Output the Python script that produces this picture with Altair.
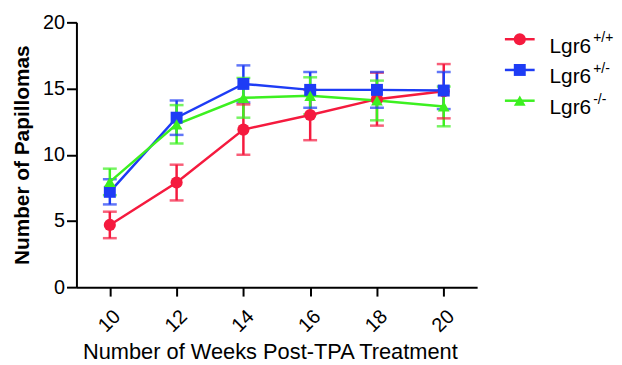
import altair as alt
import pandas as pd

weeks = [10, 12, 14, 16, 18, 20]
series = ["Lgr6+/+", "Lgr6+/-", "Lgr6-/-"]
sup_labels = ["+/+", "+/-", "-/-"]
colors = ["#F51A3E", "#1E3CF5", "#3CF020"]
shapes = ["circle", "square", "triangle-up"]
sizes = [150, 140, 190]

wt_mean = [4.7, 7.9, 11.9, 13.0, 14.2, 14.8]
wt_err = [1.0, 1.35, 1.9, 1.9, 2.0, 2.05]
het_mean = [7.2, 12.8, 15.35, 14.9, 14.9, 14.85]
het_err = [0.95, 1.3, 1.4, 1.35, 1.35, 1.4]
ko_mean = [7.95, 12.3, 14.3, 14.45, 14.1, 13.65]
ko_err = [1.0, 1.45, 1.5, 1.4, 1.5, 1.5]

means = [wt_mean, het_mean, ko_mean]
errs = [wt_err, het_err, ko_err]

rows = []
for s, m, e in zip(series, means, errs):
    for w, mv, ev in zip(weeks, m, e):
        rows.append({"week": w, "series": s, "mean": mv, "lo": mv - ev, "hi": mv + ev})
df = pd.DataFrame(rows)

leg = pd.DataFrame({"series": series, "sup": sup_labels, "base": ["Lgr6"] * 3})

FONT = "Liberation Sans"

color = alt.Color("series:N", scale=alt.Scale(domain=series, range=colors), legend=None)
shape = alt.Shape("series:N", scale=alt.Scale(domain=series, range=shapes), legend=None)
size = alt.Size("series:N", scale=alt.Scale(domain=series, range=sizes), legend=None)

xenc = alt.X(
    "week:Q",
    scale=alt.Scale(domain=[9, 21], nice=False, zero=False),
    axis=alt.Axis(
        values=weeks, labelAngle=-45, labelFontSize=20, labelPadding=10,
        title="Number of Weeks Post-TPA Treatment", titleFontSize=22,
        titleFontWeight="normal", titlePadding=6, titleX=195, grid=False,
    ),
)
yscale = alt.Scale(domain=[0, 20], nice=False)
yenc = alt.Y(
    "mean:Q", scale=yscale,
    axis=alt.Axis(
        values=[0, 5, 10, 15, 20], labelFontSize=20, labelPadding=2, tickSize=10,
        title="Number of Papillomas", titleFontSize=21, titleFontWeight="bold",
        titlePadding=10, grid=False,
    ),
)

base = alt.Chart(df)
rule = base.mark_rule(strokeWidth=2.5).encode(x=xenc, y=alt.Y("lo:Q", scale=yscale), y2="hi:Q", color=color)
cap_lo = base.mark_tick(orient="horizontal", size=14, thickness=2.5).encode(x=xenc, y=alt.Y("lo:Q", scale=yscale), color=color)
cap_hi = base.mark_tick(orient="horizontal", size=14, thickness=2.5).encode(x=xenc, y=alt.Y("hi:Q", scale=yscale), color=color)
line = base.mark_line(strokeWidth=2.5).encode(x=xenc, y=yenc, color=color, detail="series:N")
pts = base.mark_point(filled=True, opacity=1).encode(x=xenc, y=yenc, color=color, shape=shape, size=size)

main = alt.layer(rule, cap_lo, cap_hi, line, pts).properties(width=404, height=267)

ly = alt.Y("series:N", sort=series, axis=None, scale=alt.Scale(type="point", domain=series, range=[17, 79], padding=0))
lbase = alt.Chart(leg)
l_rule = lbase.mark_rule(strokeWidth=2.5).encode(x=alt.value(0), x2=alt.value(30), y=ly, color=color)
l_pt = lbase.mark_point(filled=True, opacity=1).encode(x=alt.value(15), y=ly, color=color, shape=shape, size=size)
l_txt = lbase.mark_text(align="left", baseline="alphabetic", fontSize=21, font=FONT, dy=13.5, color="black").encode(
    x=alt.value(45), y=ly, text="base:N")
l_sup = lbase.mark_text(align="left", baseline="alphabetic", fontSize=14, font=FONT, dy=3, color="black").encode(
    x=alt.value(89), y=ly, text="sup:N")
legend = alt.layer(l_rule, l_pt, l_txt, l_sup).properties(width=100, height=100)

chart = alt.hconcat(main, legend, spacing=26).configure_view(stroke=None).configure_axis(
    domainColor="black", domainWidth=2, tickColor="black", tickWidth=2, tickSize=9,
    labelColor="black", titleColor="black", labelFont=FONT, titleFont=FONT,
).properties(padding={"left": 3, "top": 3, "right": 0, "bottom": 0})

chart.save("out.html", embed_options={"renderer": "svg", "actions": False})
